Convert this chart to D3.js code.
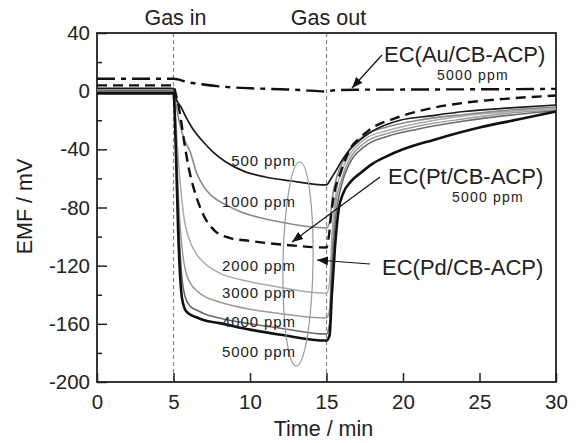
<!DOCTYPE html>
<html>
<head>
<meta charset="utf-8">
<style>
  body { margin: 0; background: #fff; }
  svg text { font-family: "Liberation Sans", Arial, sans-serif; fill: #222; }
</style>
</head>
<body>
<script src="https://d3js.org/d3.v7.min.js"></script>
<script>

// EMF (mV) vs time (min) as [time, emf]
var pd500 = [[0,2],[5,2],[5.2,-6],[5.5,-11],[5.75,-16.5],[6.2,-25],[7,-35.5],[7.5,-41],[8.4,-48.5],[9.7,-55.5],[11,-59],[12.6,-61.6],[15,-64.5],[15.3,-60],[15.6,-55],[15.9,-49.5],[16.5,-40.5],[17.2,-33.5],[17.8,-28.8],[18.8,-23.5],[19.8,-20],[21.8,-17],[24,-14],[27,-11.5],[30,-9.5]];
var pd1000 = [[0,1.5],[5,1.5],[5.15,-8],[5.4,-22],[5.7,-33],[6.1,-42],[6.5,-56],[7,-66],[7.5,-72],[8.4,-78],[9.3,-82.5],[10.3,-86],[12,-90],[15,-94],[15.2,-90],[15.4,-72],[15.7,-58],[16,-50],[16.5,-40],[17.5,-30.5],[19,-24.5],[21,-20],[24,-16],[27,-13],[30,-11]];
var pd2000 = [[0,1],[5,1],[5.1,-12],[5.3,-45],[5.5,-70],[5.7,-88],[6,-101],[6.5,-112],[7,-118],[8,-125],[10,-131],[12,-135],[15,-139],[15.2,-132],[15.35,-100],[15.6,-72],[16,-55],[16.5,-44],[17.5,-33],[19,-27],[21,-22],[24,-17],[27,-14],[30,-12]];
var pd3000 = [[0,0.5],[5,0.5],[5.1,-15],[5.25,-55],[5.4,-88],[5.6,-112],[5.8,-124],[6.1,-132],[6.6,-138],[7,-141],[8,-145],[10,-150],[12,-153],[15,-156],[15.2,-150],[15.35,-115],[15.55,-82],[16,-60],[16.5,-47],[17.5,-35.5],[19,-29],[21,-24],[24,-19],[27,-15],[30,-13]];
var pd4000 = [[0,0],[5,0],[5.1,-18],[5.25,-65],[5.4,-105],[5.55,-128],[5.75,-141],[6.1,-148],[6.6,-151],[7,-153],[8,-156],[10,-160],[12,-163],[15,-167],[15.2,-160],[15.35,-125],[15.55,-92],[16,-64],[16.5,-50],[17.5,-38],[19,-31],[21,-26],[24,-20.5],[27,-16.5],[30,-13.5]];
var pd5000 = [[0,-1.5],[5,-1.5],[5.08,-15],[5.18,-50],[5.3,-95],[5.42,-125],[5.55,-142],[5.75,-150],[6,-153],[6.5,-155.5],[7,-157.5],[8,-159.5],[10,-164],[12,-167.5],[15,-171.5],[15.2,-168],[15.35,-140],[15.55,-108],[15.8,-81],[16.1,-70],[16.6,-62],[17.2,-56.5],[18,-50],[18.9,-45],[20,-40],[22,-33.5],[25,-25],[27.5,-19.5],[30,-14]];
var pt5000 = [[0,4],[5,4],[5.15,-2],[5.4,-14],[5.7,-35],[6,-53],[6.3,-66],[6.6,-76],[7,-86],[7.7,-96],[8.7,-101],[10,-103],[12.6,-106],[15,-107.5],[15.15,-100],[15.3,-85],[15.55,-68],[15.9,-56.5],[16.5,-40.5],[17.2,-32],[17.8,-26.7],[19.8,-17.5],[21.8,-11.8],[24,-8],[27,-5],[30,-3]];
var au5000 = [[0,8.5],[5,8.5],[6,6],[6.7,4.9],[8,3.3],[10,2],[12,1.3],[13.3,0.8],[15,-0.2],[15.5,0.6],[17,1],[20,1.1],[25,1.3],[30,1.6]];

var yMajor = [-200,-160,-120,-80,-40,0,40];
var yMinor = [-180,-140,-100,-60,-20,20];
var xMajor = [0,5,10,15,20,25,30];
var ppmNames = ["500 ppm","1000 ppm","2000 ppm","3000 ppm","4000 ppm","5000 ppm"];
var gasTimes = [5, 15];
var gasNames = ["Gas in", "Gas out"];

var W = 577, H = 443;
var margin = {top: 33, right: 21, bottom: 61, left: 97};

var x = d3.scaleLinear().domain([0, 30]).range([margin.left, W - margin.right]);
var y = d3.scaleLinear().domain([-200, 40]).range([H - margin.bottom, margin.top]);

var svg = d3.select("body").append("svg")
    .attr("width", W)
    .attr("height", H);

svg.append("rect").attr("width", W).attr("height", H).attr("fill", "#fff");

var defs = svg.append("defs");
defs.append("marker")
    .attr("id", "arr")
    .attr("viewBox", "0 0 10 10")
    .attr("refX", 10).attr("refY", 5)
    .attr("markerWidth", 11).attr("markerHeight", 11)
    .attr("markerUnits", "userSpaceOnUse")
    .attr("orient", "auto")
  .append("path")
    .attr("d", "M0,1 L10,5 L0,9 Z")
    .attr("fill", "#111");

// gas in / gas out markers
svg.selectAll(".gasline")
    .data(gasTimes)
  .enter().append("line")
    .attr("class", "gasline")
    .attr("x1", function(d) { return x(d); })
    .attr("x2", function(d) { return x(d); })
    .attr("y1", y(40))
    .attr("y2", y(-200))
    .attr("stroke", "#888")
    .attr("stroke-width", 1.2)
    .attr("stroke-dasharray", "4,3");

svg.selectAll(".gaslabel")
    .data(gasNames)
  .enter().append("text")
    .attr("class", "gaslabel")
    .attr("x", function(d, i) { return x(gasTimes[i]) + 2; })
    .attr("y", 25)
    .attr("text-anchor", "middle")
    .style("font-size", "21.5px")
    .text(function(d) { return d; });

// axes, ticks inward
var plain = function(d) { return String(d); };
svg.append("g")
    .attr("transform", "translate(" + margin.left + ",0)")
    .call(d3.axisLeft(y).tickValues(yMajor).tickSize(-10).tickPadding(7).tickFormat(plain));
svg.append("g")
    .attr("transform", "translate(" + margin.left + ",0)")
    .call(d3.axisLeft(y).tickValues(yMinor).tickSize(-5).tickFormat(""));
svg.append("g")
    .attr("transform", "translate(0," + (H - margin.bottom) + ")")
    .call(d3.axisBottom(x).tickValues(xMajor).tickSize(-9).tickPadding(12).tickFormat(plain));

svg.selectAll(".domain").remove();
svg.selectAll(".tick line").attr("stroke", "#222").attr("stroke-width", 1.5);
svg.selectAll(".tick text").style("font-size", "20.5px").attr("fill", "#222")
    .style("font-family", "'Liberation Sans', Arial, sans-serif");

svg.append("rect")
    .attr("x", x(0)).attr("y", y(40))
    .attr("width", x(30) - x(0)).attr("height", y(-200) - y(40))
    .attr("fill", "none")
    .attr("stroke", "#222")
    .attr("stroke-width", 1.8);

svg.append("text")
    .attr("text-anchor", "middle")
    .attr("transform", "translate(32," + ((y(40) + y(-200)) / 2 - 1) + ")rotate(-90)")
    .style("font-size", "21.5px")
    .text("EMF / mV");

svg.append("text")
    .attr("text-anchor", "middle")
    .attr("x", (x(0) + x(30)) / 2 - 3)
    .attr("y", 436)
    .style("font-size", "21.5px")
    .text("Time / min");

// curves
var line = d3.line()
    .x(function(d) { return x(d[0]); })
    .y(function(d) { return y(d[1]); })
    .curve(d3.curveMonotoneX);

var series = [
  {data: pd2000, color: "#ababab", width: 1.5},
  {data: pd3000, color: "#9a9a9a", width: 1.5},
  {data: pd1000, color: "#8a8a8a", width: 1.6},
  {data: pd4000, color: "#6a6a6a", width: 1.6},
  {data: pd500,  color: "#1a1a1a", width: 1.7},
  {data: pd5000, color: "#111", width: 2.6},
  {data: pt5000, color: "#111", width: 2.4, dash: "10,6"},
  {data: au5000, color: "#111", width: 2.4, dash: "18,6,5,6"}
];

svg.selectAll(".curve")
    .data(series)
  .enter().append("path")
    .attr("class", "curve")
    .attr("d", function(d) { return line(d.data); })
    .attr("fill", "none")
    .attr("stroke", function(d) { return d.color; })
    .attr("stroke-width", function(d) { return d.width; })
    .attr("stroke-dasharray", function(d) { return d.dash || null; });

// ellipse grouping the Pd curves
svg.append("ellipse")
    .attr("cx", 298).attr("cy", 264)
    .attr("rx", 15).attr("ry", 102)
    .attr("transform", "rotate(1,298,264)")
    .attr("fill", "none")
    .attr("stroke", "#999")
    .attr("stroke-width", 1.2);

var ppmY = [166, 206.7, 271, 298.3, 326.7, 356.7];
svg.selectAll(".ppm")
    .data(ppmNames)
  .enter().append("text")
    .attr("class", "ppm")
    .attr("x", 296)
    .attr("y", function(d, i) { return ppmY[i]; })
    .attr("text-anchor", "end")
    .style("font-size", "15px")
    .style("letter-spacing", "0.9px")
    .text(function(d) { return d; });

// electrode labels with arrows
function label(txt, xx, yy) {
  svg.append("text").attr("x", xx).attr("y", yy)
      .style("font-size", "22px").text(txt);
}
function sub(xx, yy) {
  svg.append("text").attr("x", xx).attr("y", yy)
      .style("font-size", "14px").style("letter-spacing", "1.2px").text("5000 ppm");
}
function arrow(x1, y1, x2, y2) {
  svg.append("line")
      .attr("x1", x1).attr("y1", y1).attr("x2", x2).attr("y2", y2)
      .attr("stroke", "#111").attr("stroke-width", 1.2)
      .attr("marker-end", "url(#arr)");
}

label("EC(Au/CB-ACP)", 384, 62);
sub(437, 80);
arrow(382, 55, 352, 88);

label("EC(Pt/CB-ACP)", 388, 184);
sub(452, 202);
arrow(380, 177, 292, 242);

label("EC(Pd/CB-ACP)", 382, 275);
arrow(370, 264, 317, 260);

</script>
</body>
</html>
